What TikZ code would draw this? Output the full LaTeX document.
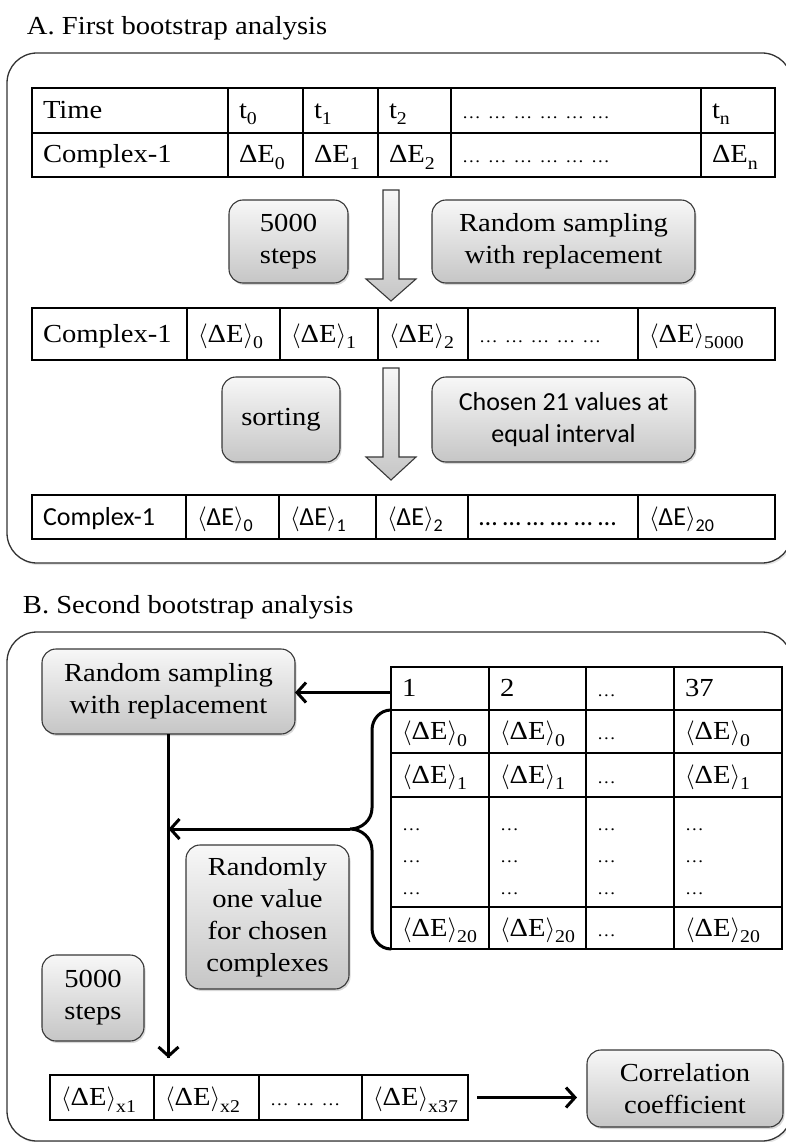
\documentclass[tikz,border=0pt]{standalone}
\usepackage{fontspec}
\setmainfont{Liberation Serif}[FakeStretch=1.1]
\newfontfamily\calfont{Carlito}
\usetikzlibrary{arrows.meta,calc,shadows}

% lowered index, small ellipsis, bracketed energy term
\newcommand\subx[1]{\raisebox{-6.5pt}{\fontsize{18}{18}\selectfont #1}}
\newcommand\dd{{\fontsize{17}{17}\selectfont …}}
\newcommand\aE[1]{$\langle$ΔE$\rangle$\subx{#1}}

% table cell: name, x1, x2, y1, y2, text
\newcommand\tc[6]{%
  \node[tcell, minimum width={(#3-#2)*1pt}, minimum height={(#5-#4)*1pt}]
    (#1) at ({(#2+#3)/2},{-(#4+#5)/2}) {};
  \node[anchor=base west] (#1t) at ($(#1.west)+(11,-8)$) {#6};}

% shaded rounded box: name, x1, x2, y1, y2, text
\newcommand\pb[6]{%
  \node[pill, minimum width={(#3-#2)*1pt}, minimum height={(#5-#4)*1pt}]
    (#1) at ({(#2+#3)/2},{-(#4+#5)/2}) {#6};}

% block arrow pointing down: centre x, top, head base, tip
\newcommand\bigdown[4]{%
  \draw[bigarrow] ({#1-8},{-#2}) -- ({#1+8},{-#2}) -- ({#1+8},{-#3})
    -- ({#1+25},{-#3}) -- ({#1},{-#4}) -- ({#1-25},{-#3}) -- ({#1-8},{-#3}) -- cycle;}

\begin{document}
\begin{tikzpicture}[x=1pt,y=1pt,
  every node/.style={inner sep=0pt, outer sep=0pt, font=\fontsize{26}{32}\selectfont},
  tcell/.style={draw=black, line width=1.2pt},
  pill/.style={draw=black!78, line width=1.1pt, rounded corners=14pt,
    top color=gray!6, bottom color=gray!45, align=center,
    drop shadow={shadow xshift=1.5pt, shadow yshift=-2pt, opacity=0.3}},
  panel/.style={draw=black!80, line width=1.3pt, rounded corners=30pt,
    drop shadow={shadow xshift=1.5pt, shadow yshift=-2pt, opacity=0.2}, fill=white},
  bigarrow/.style={draw=black!78, line width=1.1pt, top color=gray!6, bottom color=gray!45},
  link/.style={line width=3pt, -{Straight Barb[length=9pt,width=20pt]}}]

\useasboundingbox (0,0) rectangle (786,-1142);
\clip (0,0) rectangle (786,-1142);
\fill[white] (0,0) rectangle (786,-1142);

% ---------- A ----------
\node[anchor=base west] (titleA) at (27,-35) {A. First bootstrap analysis};
\draw[panel] (7,-53) rectangle (792,-563);

\tc{a11}{32}{228}{88}{133}{Time}
\tc{a12}{228}{303}{88}{133}{t\subx{0}}
\tc{a13}{303}{378}{88}{133}{t\subx{1}}
\tc{a14}{378}{451}{88}{133}{t\subx{2}}
\tc{a15}{451}{701}{88}{133}{\dd\ \dd\ \dd\ \dd\ \dd\ \dd}
\tc{a16}{701}{775}{88}{133}{t\subx{n}}
\tc{a21}{32}{228}{133}{177}{Complex-1}
\tc{a22}{228}{303}{133}{177}{ΔE\subx{0}}
\tc{a23}{303}{378}{133}{177}{ΔE\subx{1}}
\tc{a24}{378}{451}{133}{177}{ΔE\subx{2}}
\tc{a25}{451}{701}{133}{177}{\dd\ \dd\ \dd\ \dd\ \dd\ \dd}
\tc{a26}{701}{775}{133}{177}{ΔE\subx{n}}

\bigdown{391}{190}{279}{301}
\pb{stA}{229}{348}{200}{283}{5000\\steps}
\pb{rsA}{432}{695}{200}{283}{Random sampling\\with replacement}

\tc{b1}{32}{187}{308}{360}{Complex-1}
\tc{b2}{187}{280}{308}{360}{\aE{0}}
\tc{b3}{280}{378}{308}{360}{\aE{1}}
\tc{b4}{378}{468}{308}{360}{\aE{2}}
\tc{b5}{468}{638}{308}{360}{\dd\ \dd\ \dd\ \dd\ \dd}
\tc{b6}{638}{775}{308}{360}{\aE{5000}}

\bigdown{391}{368}{457}{480}
\pb{soA}{222}{340}{377}{462}{sorting}
\pb{chA}{432}{695}{377}{462}{\calfont Chosen 21 values at\\\calfont equal interval}

\tc{c1}{32}{186}{495}{539}{\calfont Complex-1}
\tc{c2}{186}{279}{495}{539}{\calfont\aE{0}}
\tc{c3}{279}{376}{495}{539}{\calfont\aE{1}}
\tc{c4}{376}{468}{495}{539}{\calfont\aE{2}}
\tc{c5}{468}{638}{495}{539}{\calfont … … … … … …}
\tc{c6}{638}{775}{495}{539}{\calfont\aE{20}}

% ---------- B ----------
\node[anchor=base west] (titleB) at (23,-613) {B. Second bootstrap analysis};
\draw[panel] (7,-632) rectangle (792,-1141);

\pb{rsB}{42}{295}{649}{734}{Random sampling\\with replacement}

\tc{d11}{391}{489}{667}{710}{1}
\tc{d12}{489}{586}{667}{710}{2}
\tc{d13}{586}{674}{667}{710}{\dd}
\tc{d14}{674}{782}{667}{710}{37}
\tc{d21}{391}{489}{710}{753}{\aE{0}}
\tc{d22}{489}{586}{710}{753}{\aE{0}}
\tc{d23}{586}{674}{710}{753}{\dd}
\tc{d24}{674}{782}{710}{753}{\aE{0}}
\tc{d31}{391}{489}{753}{797}{\aE{1}}
\tc{d32}{489}{586}{753}{797}{\aE{1}}
\tc{d33}{586}{674}{753}{797}{\dd}
\tc{d34}{674}{782}{753}{797}{\aE{1}}
\foreach \c/\xa/\xb in {1/391/489, 2/489/586, 3/586/674, 4/674/782}{
  \tc{d4\c}{\xa}{\xb}{797}{907}{}
  \node[anchor=base west] (d4\c a) at ($(\xa,-830)+(11,0)$) {\dd};
  \node[anchor=base west] (d4\c b) at ($(\xa,-862)+(11,0)$) {\dd};
  \node[anchor=base west] (d4\c c) at ($(\xa,-894)+(11,0)$) {\dd};
}
\tc{d51}{391}{489}{907}{949}{\aE{20}}
\tc{d52}{489}{586}{907}{949}{\aE{20}}
\tc{d53}{586}{674}{907}{949}{\dd}
\tc{d54}{674}{782}{907}{949}{\aE{20}}

\pb{rdB}{186}{349}{845}{989}{Randomly\\one value\\for chosen\\complexes}
\pb{stB}{42}{144}{955}{1041}{5000\\steps}
\pb{coB}{587}{783}{1050}{1127}{Correlation\\coefficient}

\tc{e1}{50}{154}{1075}{1120}{\aE{x1}}
\tc{e2}{154}{259}{1075}{1120}{\aE{x2}}
\tc{e3}{259}{362}{1075}{1120}{\dd\ \dd\ \dd}
\tc{e4}{362}{468}{1075}{1120}{\aE{x37}}

% connectors
\draw[link] ($(d11.west)+(0,-4)$) -- ($(d11.west -| rsB.east)+(0,-4)$);

\coordinate (brTop) at (d21.north west);
\coordinate (brBot) at (d51.south west);
\coordinate (brTip) at (350,-829);
\draw[line width=3pt, line cap=round]
  (brTop) to[out=180,in=90] (372,-730) -- (372,-808) to[out=-90,in=0] (brTip)
  to[out=0,in=90] (372,-850) -- (372,-928) to[out=-90,in=180] (brBot);

\coordinate (vEnd) at ($(rsB.south |- e1.north)+(0,17)$);
\draw[line width=3pt] (rsB.south) -- (vEnd);
\draw[link] ($(vEnd)+(0,10)$) -- (vEnd);
\draw[link] (brTip) -- (brTip -| rsB.south);
\draw[link, shorten <=9pt, shorten >=10pt] (e4.east) -- (e4.east -| coB.west);
\end{tikzpicture}
\end{document}
